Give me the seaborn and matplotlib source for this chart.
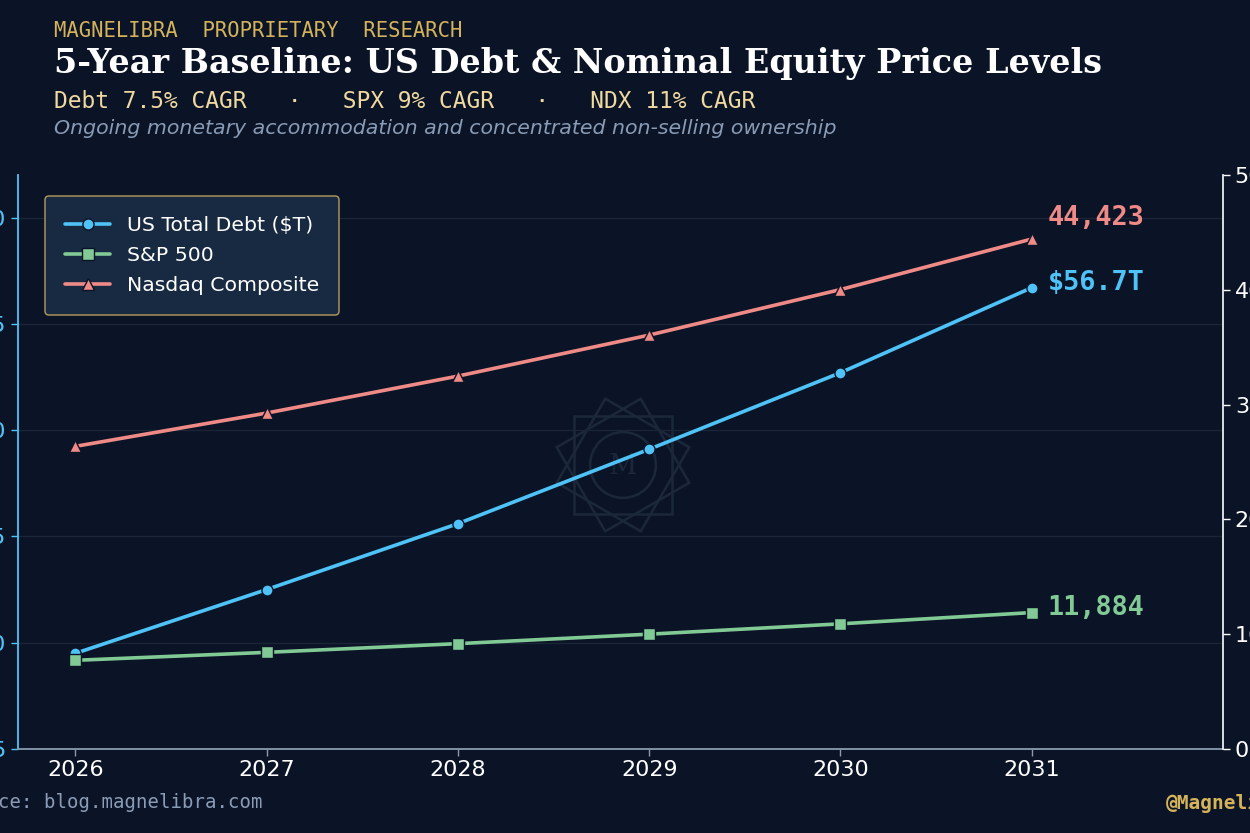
import numpy as np
import pandas as pd
import matplotlib
matplotlib.use("Agg")
import matplotlib.pyplot as plt
import matplotlib.patches as mpatches
from matplotlib.lines import Line2D
from matplotlib.ticker import FuncFormatter
import seaborn as sns

# ---------------- data ----------------
years = [2026, 2027, 2028, 2029, 2030, 2031]
debt_trillions = [39.5, 42.5, 45.6, 49.1, 52.7, 56.7]
spx_level = [7724, 8419, 9177, 10003, 10903, 11884]
ndx_level = [26363, 29263, 32482, 36055, 40021, 44423]

series_names = ["US Total Debt ($T)", "S&P 500", "Nasdaq Composite"]
left_ticks = [35, 40, 45, 50, 55, 60]
right_ticks = [0, 10000, 20000, 30000, 40000, 50000]

kicker = "MAGNELIBRA  PROPRIETARY  RESEARCH"
title = "5-Year Baseline: US Debt & Nominal Equity Price Levels"
cagr_line = "Debt 7.5% CAGR   ·   SPX 9% CAGR   ·   NDX 11% CAGR"
subtitle = "Ongoing monetary accommodation and concentrated non-selling ownership"
source = "Source: blog.magnelibra.com"
handle = "@Magnelibra"

# ---------------- style ----------------
BG = "#0b1426"
CYAN = "#4fc3f7"
GREEN = "#81c995"
SALMON = "#ef8a87"
GOLD = "#d4b35a"
LIGHTGOLD = "#f0d9a0"
GRAYTXT = "#8a9bb5"

sns.set_theme(style="dark")
plt.rcParams["font.family"] = ["DejaVu Sans"]

W, H = 1250, 833
fig = plt.figure(figsize=(12.5, 8.33), dpi=100, facecolor=BG)

def fx(px):
    return px / W

def fy(py):
    return 1 - py / H

ax_l, ax_r, ax_t, ax_b = 18, 1223, 175, 749
ax = fig.add_axes([fx(ax_l), fy(ax_b), fx(ax_r - ax_l), (ax_b - ax_t) / H])
ax.set_facecolor("none")
ax.set_zorder(2)

# watermark behind
wm_cx, wm_cy, wm_r = 623, 465, 70
wax = fig.add_axes([fx(wm_cx - wm_r), fy(wm_cy + wm_r), fx(2 * wm_r), 2 * wm_r / H])
wax.set_zorder(1)
wax.set_xlim(-1, 1); wax.set_ylim(-1, 1)
wax.axis("off")
wm_col = "#1b283a"
for ang in [0, 30, 60]:
    sq = mpatches.RegularPolygon((0, 0), 4, radius=0.98, orientation=np.deg2rad(45 + ang),
                                 fill=False, ec=wm_col, lw=1.8)
    wax.add_patch(sq)
wax.add_patch(mpatches.Circle((0, 0), 0.47, fill=False, ec=wm_col, lw=1.8))
wax.text(0, -0.02, "M", ha="center", va="center", color=wm_col, fontsize=20, family="DejaVu Serif")

ax2 = ax.twinx()
ax2.set_facecolor("none")

df = pd.DataFrame({"year": years, "debt": debt_trillions, "spx": spx_level, "ndx": ndx_level})

mkw = dict(markeredgecolor=BG, markeredgewidth=1.0)
sns.lineplot(data=df, x="year", y="debt", ax=ax, color=CYAN, lw=2.6, marker="o",
             markersize=8, legend=False, zorder=5, **mkw)
sns.lineplot(data=df, x="year", y="spx", ax=ax2, color=GREEN, lw=2.6, marker="s",
             markersize=8, legend=False, zorder=5, **mkw)
sns.lineplot(data=df, x="year", y="ndx", ax=ax2, color=SALMON, lw=2.6, marker="^",
             markersize=8, legend=False, zorder=5, **mkw)

ax.set_xlim(2025.70, 2032.0)
ax.set_ylim(35, 62)
ax2.set_ylim(0, 50000)
ax.set_xticks(years)
ax.set_xticklabels([str(y) for y in years])
ax.set_yticks(left_ticks)
ax2.set_yticks(right_ticks)
ax2.yaxis.set_major_formatter(FuncFormatter(lambda v, p: f"{int(v):,}"))
ax.set_xlabel(""); ax.set_ylabel(""); ax2.set_ylabel("")

ax.grid(True, axis="y", color="#1a2638", lw=0.9)
ax.grid(False, axis="x")
ax2.grid(False)

for a in (ax, ax2):
    for s in a.spines.values():
        s.set_visible(False)
ax.spines["left"].set_visible(True)
ax.spines["left"].set_color(CYAN)
ax.spines["left"].set_linewidth(1.3)
ax.spines["bottom"].set_visible(True)
ax.spines["bottom"].set_color("#8a9bb0")
ax.spines["bottom"].set_linewidth(1.3)
ax2.spines["right"].set_visible(True)
ax2.spines["right"].set_color("#e8edf2")
ax2.spines["right"].set_linewidth(1.3)

ax.tick_params(axis="y", colors=CYAN, labelsize=16, length=5, width=1, left=True)
ax.tick_params(axis="x", colors="#8a9bb0", labelcolor="white", labelsize=16, length=5, width=1, bottom=True, pad=3)
ax2.tick_params(axis="y", colors="white", labelsize=16, length=5, width=1, right=True)

# end labels
lab_font = dict(family="DejaVu Sans Mono", fontweight="bold", fontsize=19.4)
ax2.annotate(f"{ndx_level[-1]:,}", (years[-1], ndx_level[-1]), xytext=(16, 21),
             textcoords="offset pixels", color=SALMON, va="center", ha="left", **lab_font)
ax.annotate(f"${debt_trillions[-1]}T", (years[-1], debt_trillions[-1]), xytext=(16, 5),
            textcoords="offset pixels", color=CYAN, va="center", ha="left", **lab_font)
ax2.annotate(f"{spx_level[-1]:,}", (years[-1], spx_level[-1]), xytext=(16, 5),
             textcoords="offset pixels", color=GREEN, va="center", ha="left", **lab_font)

# legend
handles = [
    Line2D([], [], color=CYAN, lw=2.6, marker="o", markersize=8, **mkw),
    Line2D([], [], color=GREEN, lw=2.6, marker="s", markersize=8, **mkw),
    Line2D([], [], color=SALMON, lw=2.6, marker="^", markersize=8, **mkw),
]
leg = ax2.legend(handles, series_names, loc="upper left",
                 bbox_to_anchor=((45 - ax_l) / (ax_r - ax_l), 1 - (196 - ax_t) / (ax_b - ax_t)),
                 borderaxespad=0, frameon=True, fontsize=14.7, labelcolor="white", borderpad=1.0,
                 handlelength=2.2, handletextpad=0.8, labelspacing=0.52, fancybox=True)
leg.get_frame().set_facecolor("#182a42")
leg.get_frame().set_edgecolor("#a8915a")
leg.get_frame().set_linewidth(1.1)
leg.get_frame().set_alpha(1)
leg.set_zorder(10)

# header texts
fig.text(fx(54), fy(31), kicker, family="DejaVu Sans Mono", fontsize=14.8, color=GOLD, va="center", ha="left")
fig.text(fx(54), fy(63), title, family="DejaVu Serif", fontweight="bold", fontsize=24, color="white", va="center", ha="left")
fig.text(fx(54), fy(102), cagr_line, family="DejaVu Sans Mono", fontsize=16.5, color=LIGHTGOLD, va="center", ha="left")
fig.text(fx(54), fy(129), subtitle, family="DejaVu Sans", style="italic", fontsize=14.75, color=GRAYTXT, va="center", ha="left")

# footer
fig.text(fx(-48), fy(803), source, family="DejaVu Sans Mono", fontsize=13.7, color=GRAYTXT, va="center", ha="left")
fig.text(fx(1166), fy(803), handle, family="DejaVu Sans Mono", fontweight="bold", fontsize=14, color=GOLD, va="center", ha="left")

fig.savefig("out.png", dpi=100, facecolor=BG)
